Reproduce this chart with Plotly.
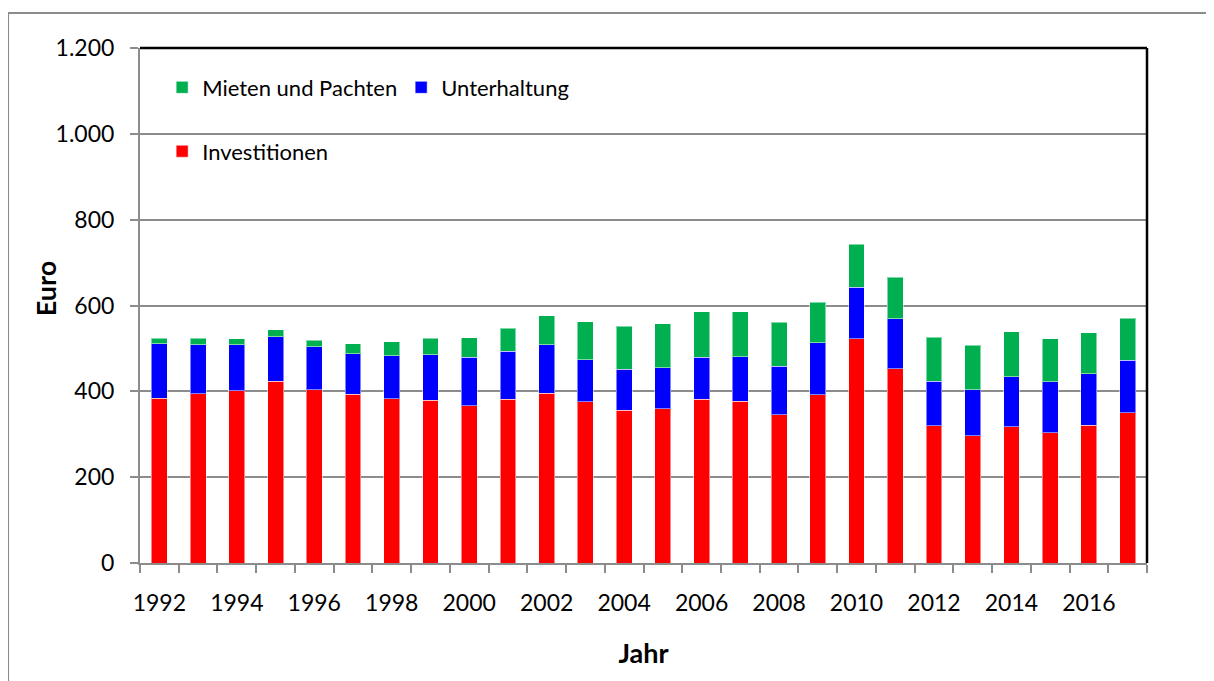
import plotly.graph_objects as go

years = list(range(1992, 2018))
investitionen = [384, 394, 401, 424, 404, 393, 383, 379, 367, 381, 396, 376, 356, 360, 381, 377, 346, 392, 522, 453, 320, 297, 318, 304, 321, 350]
unterhaltung = [127, 115, 107, 103, 100, 95, 100, 106, 112, 112, 112, 98, 95, 95, 99, 104, 112, 121, 121, 116, 103, 107, 116, 118, 120, 122]
mieten = [13, 15, 14, 16, 15, 23, 32, 39, 46, 54, 68, 88, 101, 102, 106, 104, 103, 95, 100, 97, 103, 103, 105, 100, 96, 98]

y_ticks = [0, 200, 400, 600, 800, 1000, 1200]
x_ticks = list(range(1992, 2017, 2))

FONT = "Lato"
GRID = "#8c8c8c"

fig = go.Figure()
fig.add_trace(go.Bar(x=years, y=investitionen, name="Investitionen",
                     marker=dict(color="#FF0000", line=dict(color="rgba(255,255,255,0.5)", width=1)),
                     legend="legend2"))
fig.add_trace(go.Bar(x=years, y=unterhaltung, name="Unterhaltung",
                     marker=dict(color="#0000FF", line=dict(color="rgba(255,255,255,0.5)", width=1)),
                     legend="legend"))
fig.add_trace(go.Bar(x=years, y=mieten, name="Mieten und Pachten",
                     marker=dict(color="#00B050", line=dict(color="rgba(255,255,255,0.5)", width=1)),
                     legend="legend"))

boundaries = [y - 0.5 for y in years] + [years[-1] + 0.5]

fig.update_layout(
    width=1206, height=673,
    barmode="stack", bargap=0.59,
    separators=",.",
    paper_bgcolor="white", plot_bgcolor="white",
    margin=dict(l=132, r=67, t=40, b=118),
    font=dict(family=FONT, size=22, color="black"),
    xaxis=dict(
        range=[1991.5, 2017.5],
        tickvals=x_ticks, tickformat="d",
        ticks="", showgrid=False,
        showline=True, linecolor=GRID, linewidth=2,
        tickfont=dict(size=23),
        ticklabelstandoff=18,
        minor=dict(tickvals=boundaries, ticks="outside", ticklen=8, tickcolor=GRID, tickwidth=2, showgrid=False),
        title=dict(text="<b>Jahr</b>", font=dict(size=27), standoff=30),
    ),
    yaxis=dict(
        range=[0, 1200], tickvals=y_ticks, tickformat=",d",
        ticks="outside", ticklen=8, tickcolor=GRID, tickwidth=2,
        showgrid=True, gridcolor=GRID, gridwidth=2,
        showline=True, linecolor=GRID, linewidth=2,
        zeroline=False,
        tickfont=dict(size=23),
        ticklabelstandoff=11,
    ),
    legend=dict(orientation="h", x=0.022, y=0.964, xanchor="left", yanchor="top",
                traceorder="reversed", entrywidth=194, font=dict(size=22),
                bgcolor="rgba(0,0,0,0)"),
    legend2=dict(orientation="h", x=0.022, y=0.84, xanchor="left", yanchor="top",
                 font=dict(size=22), bgcolor="rgba(0,0,0,0)"),
    annotations=[
        dict(text="<b>Euro</b>", xref="paper", yref="paper", x=-0.0935, y=0.533,
             textangle=-90, showarrow=False, font=dict(size=27),
             xanchor="center", yanchor="middle"),
    ],
    shapes=[
        dict(type="rect", xref="paper", yref="paper", x0=-0.131, x1=1.064, y0=-0.235, y1=1.068,
             line=dict(color="#8c8c8c", width=2), layer="below"),
        dict(type="line", xref="paper", yref="paper", x0=0, x1=1, y0=1, y1=1,
             line=dict(color="black", width=2.5)),
        dict(type="line", xref="paper", yref="paper", x0=1, x1=1, y0=0, y1=1,
             line=dict(color="black", width=2.5)),
    ],
)

fig.write_html("out.html")
